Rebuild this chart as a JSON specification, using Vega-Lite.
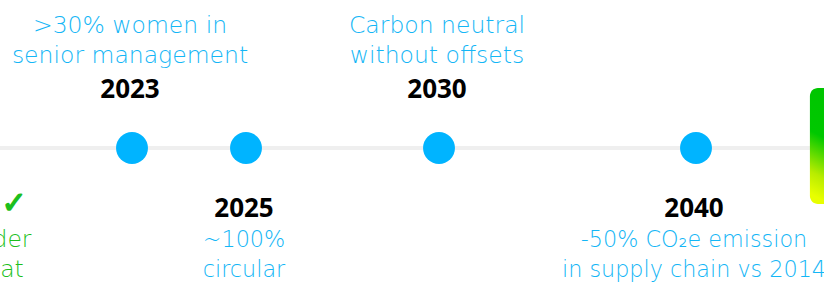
{
  "$schema": "https://vega.github.io/schema/vega-lite/v6.json",
  "width": 824,
  "height": 286,
  "autosize": {"type": "none"},
  "padding": 0,
  "background": "white",
  "config": {"view": {"stroke": null}},
  "data": {
    "values": [
      {"year": 2020, "label": "✓", "desc": "der\nat", "side": "done"},
      {"year": 2023, "label": "2023", "desc": ">30% women in\nsenior management", "side": "above"},
      {"year": 2025, "label": "2025", "desc": "~100%\ncircular", "side": "below"},
      {"year": 2030, "label": "2030", "desc": "Carbon neutral\nwithout offsets", "side": "above"},
      {"year": 2040, "label": "2040", "desc": "-50% CO₂e emission\nin supply chain vs 2014", "side": "below"}
    ]
  },
  "layer": [
    {
      "data": {"values": [{}]},
      "mark": {"type": "rule", "stroke": "#efefef", "strokeWidth": 4},
      "encoding": {
        "x": {"datum": 2019.7, "type": "quantitative", "scale": {"domain": [2019.7, 2023, 2025, 2030, 2040, 2045], "range": [0, 132, 246, 439, 696, 824], "nice": false, "zero": false}, "axis": null},
        "x2": {"datum": 2044.45},
        "y": {"datum": 0, "type": "quantitative", "scale": {"domain": [-138, 148], "nice": false, "zero": false}, "axis": null}
      }
    },
    {
      "data": {"values": [{}]},
      "mark": {
        "type": "rect",
        "cornerRadius": 8,
        "fill": {
          "gradient": "linear",
          "x1": 0.6, "y1": 0, "x2": 0.3, "y2": 1,
          "stops": [
            {"offset": 0, "color": "#00c400"},
            {"offset": 0.5, "color": "#00c800"},
            {"offset": 0.82, "color": "#b8ec00"},
            {"offset": 1, "color": "#e8ff00"}
          ]
        }
      },
      "encoding": {
        "x": {"datum": 2044.45, "type": "quantitative"},
        "x2": {"datum": 2047},
        "y": {"datum": 60, "type": "quantitative"},
        "y2": {"datum": -56}
      }
    },
    {
      "transform": [{"filter": "datum.side !== 'done'"}],
      "mark": {"type": "circle", "size": 1018, "color": "#00b4ff", "opacity": 1},
      "encoding": {
        "x": {"field": "year", "type": "quantitative"},
        "y": {"datum": 0, "type": "quantitative"}
      }
    },
    {
      "transform": [{"filter": "datum.side === 'above'"}],
      "mark": {"type": "text", "font": "Open Sans", "fontWeight": "bold", "fontSize": 26, "color": "#000000", "align": "center", "baseline": "alphabetic", "dx": -2, "dy": -50},
      "encoding": {
        "x": {"field": "year", "type": "quantitative"},
        "y": {"datum": 0, "type": "quantitative"},
        "text": {"field": "label"}
      }
    },
    {
      "transform": [{"filter": "datum.side === 'below'"}],
      "mark": {"type": "text", "font": "Open Sans", "fontWeight": "bold", "fontSize": 26, "color": "#000000", "align": "center", "baseline": "alphabetic", "dx": -2, "dy": 69},
      "encoding": {
        "x": {"field": "year", "type": "quantitative"},
        "y": {"datum": 0, "type": "quantitative"},
        "text": {"field": "label"}
      }
    },
    {
      "transform": [{"filter": "datum.side === 'above'"}],
      "mark": {"type": "text", "font": "DejaVu Sans", "fontWeight": 200, "fontSize": 23.5, "lineHeight": 30, "lineBreak": "\n", "color": "#14b6f6", "align": "center", "baseline": "alphabetic", "dx": -2, "dy": -115},
      "encoding": {
        "x": {"field": "year", "type": "quantitative"},
        "y": {"datum": 0, "type": "quantitative"},
        "text": {"field": "desc"}
      }
    },
    {
      "transform": [{"filter": "datum.side === 'below'"}],
      "mark": {"type": "text", "font": "DejaVu Sans", "fontWeight": 200, "fontSize": 22.3, "lineHeight": 30, "lineBreak": "\n", "color": "#14b6f6", "align": "center", "baseline": "alphabetic", "dx": -2, "dy": 99},
      "encoding": {
        "x": {"field": "year", "type": "quantitative"},
        "y": {"datum": 0, "type": "quantitative"},
        "text": {"field": "desc"}
      }
    },
    {
      "transform": [{"filter": "datum.side === 'done'"}],
      "mark": {"type": "text", "font": "DejaVu Sans", "fontWeight": "bold", "fontSize": 30, "color": "#1cbf1c", "stroke": "#1cbf1c", "strokeWidth": 1.4, "align": "center", "baseline": "alphabetic", "dx": 2, "dy": 65},
      "encoding": {
        "x": {"field": "year", "type": "quantitative"},
        "y": {"datum": 0, "type": "quantitative"},
        "text": {"field": "label"}
      }
    },
    {
      "transform": [{"filter": "datum.side === 'done'"}],
      "mark": {"type": "text", "font": "DejaVu Sans", "fontWeight": 200, "fontSize": 23.5, "lineHeight": 30, "lineBreak": "\n", "color": "#1cbf1c", "align": "center", "baseline": "alphabetic", "dy": 99},
      "encoding": {
        "x": {"field": "year", "type": "quantitative"},
        "y": {"datum": 0, "type": "quantitative"},
        "text": {"field": "desc"}
      }
    }
  ]
}
